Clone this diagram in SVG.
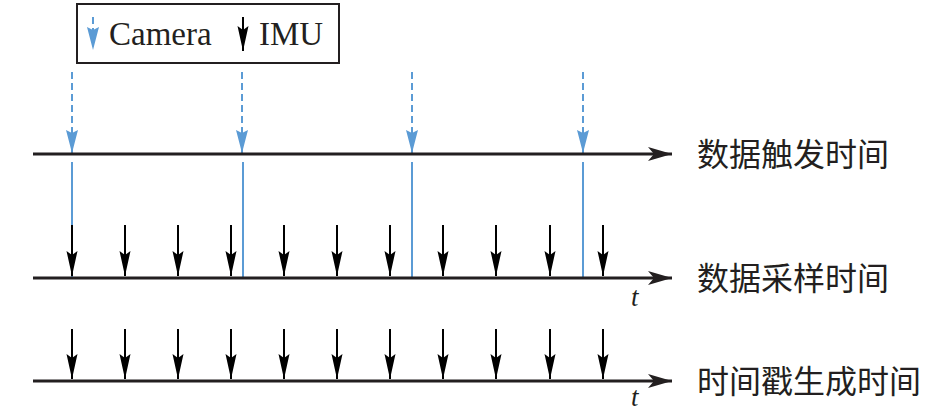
<svg xmlns="http://www.w3.org/2000/svg" width="925" height="413" viewBox="0 0 925 413">
<style>
.axis{stroke:#231f20;stroke-width:3;fill:none}
.cam{stroke:#5b9bd5;stroke-width:2;fill:none}
.dash{stroke-dasharray:7 4}
.imu{stroke:#000;stroke-width:2;fill:none}
.lbl{font-family:"Noto Sans CJK SC","Noto Sans",sans-serif;font-size:32px;fill:#231f20}
.leg{font-family:"Liberation Serif",serif;font-size:33px;fill:#231f20}
.t{font-family:"Liberation Serif",serif;font-size:27px;font-style:italic;fill:#231f20}
</style>
<defs>
<marker id="axh" markerUnits="userSpaceOnUse" markerWidth="26" markerHeight="16" refX="24" refY="8" orient="auto" viewBox="0 0 26 16"><path d="M0,1 L24,8 L0,15 L6,8 Z" fill="#231f20"/></marker>
<marker id="imuh" markerUnits="userSpaceOnUse" markerWidth="12" markerHeight="26" refX="6" refY="25" viewBox="0 0 12 26"><path d="M0.5,0 L6,25 L11.5,0 L6,4 Z" fill="#000"/></marker>
<marker id="camh" markerUnits="userSpaceOnUse" markerWidth="14" markerHeight="24" refX="7" refY="23" viewBox="0 0 14 24"><path d="M1,0 L7,23 L13,0 L7,3 Z" fill="#5b9bd5"/></marker>
</defs>
<g id="legend">
<rect x="77" y="4" width="262" height="59" fill="#fff" stroke="#231f20" stroke-width="2"/>
<line class="cam dash" x1="93" y1="17" x2="93" y2="50" marker-end="url(#camh)"/>
<text class="leg" x="109" y="45">Camera</text>
<line class="imu" x1="243" y1="17" x2="243" y2="51" marker-end="url(#imuh)"/>
<text class="leg" x="259" y="45">IMU</text>
</g>
<g id="connectors">
<line class="cam dash" x1="72" y1="72" x2="72" y2="153" marker-end="url(#camh)"/>
<line class="cam dash" x1="242" y1="72" x2="242" y2="153" marker-end="url(#camh)"/>
<line class="cam dash" x1="412" y1="72" x2="412" y2="153" marker-end="url(#camh)"/>
<line class="cam dash" x1="583" y1="72" x2="583" y2="153" marker-end="url(#camh)"/>
<line class="cam" x1="72" y1="162" x2="72" y2="277"/>
<line class="cam" x1="243" y1="162" x2="243" y2="277"/>
<line class="cam" x1="412" y1="162" x2="412" y2="277"/>
<line class="cam" x1="583" y1="162" x2="583" y2="277"/>
<g id="imu-sample">
<line class="imu" x1="72" y1="225" x2="72" y2="276" marker-end="url(#imuh)"/>
<line class="imu" x1="125" y1="225" x2="125" y2="276" marker-end="url(#imuh)"/>
<line class="imu" x1="178" y1="225" x2="178" y2="276" marker-end="url(#imuh)"/>
<line class="imu" x1="231" y1="225" x2="231" y2="276" marker-end="url(#imuh)"/>
<line class="imu" x1="284" y1="225" x2="284" y2="276" marker-end="url(#imuh)"/>
<line class="imu" x1="337" y1="225" x2="337" y2="276" marker-end="url(#imuh)"/>
<line class="imu" x1="390" y1="225" x2="390" y2="276" marker-end="url(#imuh)"/>
<line class="imu" x1="443" y1="225" x2="443" y2="276" marker-end="url(#imuh)"/>
<line class="imu" x1="496" y1="225" x2="496" y2="276" marker-end="url(#imuh)"/>
<line class="imu" x1="550" y1="225" x2="550" y2="276" marker-end="url(#imuh)"/>
<line class="imu" x1="603" y1="225" x2="603" y2="276" marker-end="url(#imuh)"/>
</g>
<g id="imu-stamp">
<line class="imu" x1="72" y1="329" x2="72" y2="379" marker-end="url(#imuh)"/>
<line class="imu" x1="125" y1="329" x2="125" y2="379" marker-end="url(#imuh)"/>
<line class="imu" x1="178" y1="329" x2="178" y2="379" marker-end="url(#imuh)"/>
<line class="imu" x1="231" y1="329" x2="231" y2="379" marker-end="url(#imuh)"/>
<line class="imu" x1="284" y1="329" x2="284" y2="379" marker-end="url(#imuh)"/>
<line class="imu" x1="337" y1="329" x2="337" y2="379" marker-end="url(#imuh)"/>
<line class="imu" x1="390" y1="329" x2="390" y2="379" marker-end="url(#imuh)"/>
<line class="imu" x1="443" y1="329" x2="443" y2="379" marker-end="url(#imuh)"/>
<line class="imu" x1="496" y1="329" x2="496" y2="379" marker-end="url(#imuh)"/>
<line class="imu" x1="550" y1="329" x2="550" y2="379" marker-end="url(#imuh)"/>
<line class="imu" x1="603" y1="329" x2="603" y2="379" marker-end="url(#imuh)"/>
</g>
</g>
<g id="axis-trigger">
<line class="axis" x1="33" y1="154" x2="672" y2="154" marker-end="url(#axh)"/>
<text class="lbl" x="697" y="166">数据触发时间</text>
</g>
<g id="axis-sample">
<line class="axis" x1="33" y1="278" x2="672" y2="278" marker-end="url(#axh)"/>
<text class="lbl" x="697" y="290">数据采样时间</text>
<text class="t" x="631" y="306">t</text>
</g>
<g id="axis-stamp">
<line class="axis" x1="33" y1="381" x2="672" y2="381" marker-end="url(#axh)"/>
<text class="lbl" x="697" y="393">时间戳生成时间</text>
<text class="t" x="631" y="406">t</text>
</g>
</svg>
